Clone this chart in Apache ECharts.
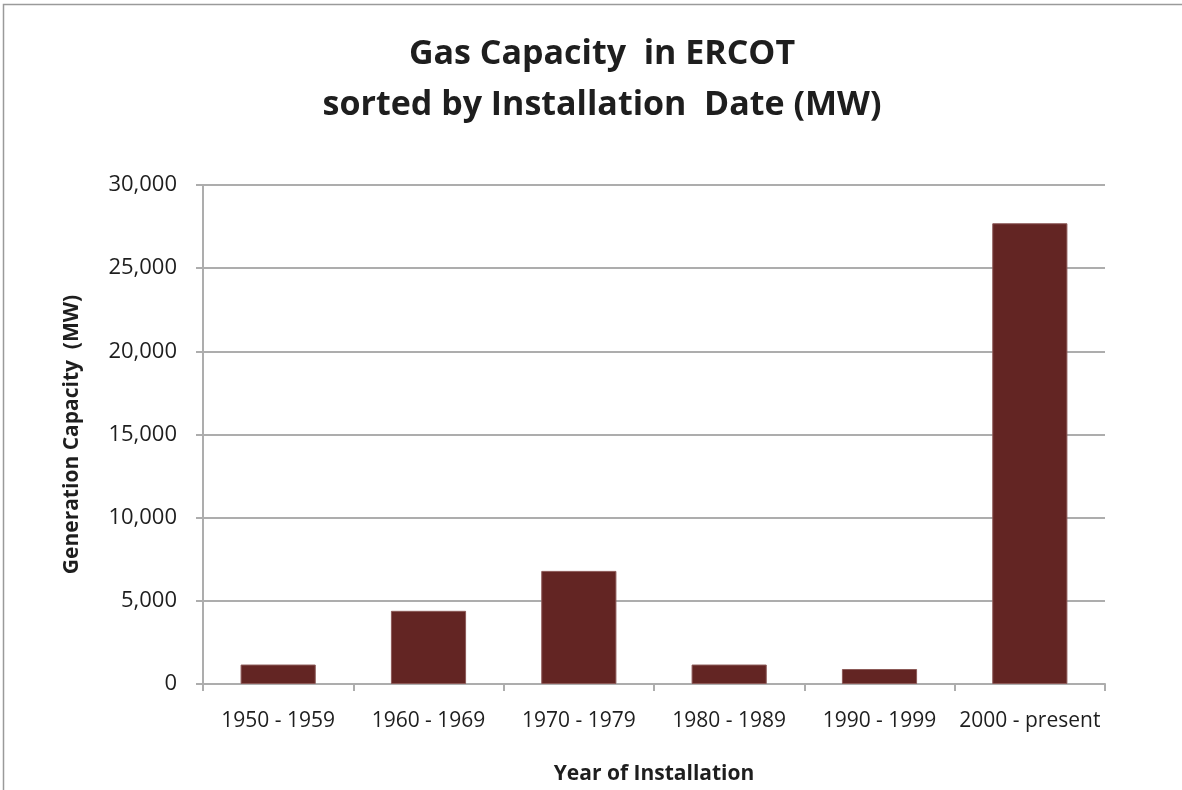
<!DOCTYPE html>
<html>
<head>
<meta charset="utf-8">
<title>Gas Capacity in ERCOT</title>
<script src="https://cdn.jsdelivr.net/npm/echarts@6/dist/echarts.min.js"></script>
<style>
    html, body { margin: 0; padding: 0; background: #fff; }
    #chart { width: 1182px; height: 790px; }
</style>
</head>
<body>
<div id="chart"></div>
<script>
// 카테고리 (설치 연대)
const categories = ['1950 - 1959', '1960 - 1969', '1970 - 1979', '1980 - 1989', '1990 - 1999', '2000 - present'];

// 발전 용량 (MW) - 그림에서 읽은 값
const capacityMW = [1170, 4400, 6800, 1170, 900, 27700];

// y축 눈금
const yTicks = [0, 5000, 10000, 15000, 20000, 25000, 30000];

const BAR_COLOR = '#632523';
const GRID_COLOR = '#adadad';
const FONT = '"Open Sans", "Noto Sans", sans-serif';

const chart = echarts.init(document.getElementById('chart'));

const option = {
    backgroundColor: '#fff',
    animation: false,
    title: {
        text: 'Gas Capacity  in ERCOT\nsorted by Installation  Date (MW)',
        left: 597,
        top: 24,
        textAlign: 'center',
        textStyle: {
            fontFamily: FONT,
            fontSize: 34,
            fontWeight: 'bold',
            color: '#1e1e1e',
            lineHeight: 51
        }
    },
    // 차트 외곽 테두리
    graphic: [{
        type: 'rect',
        shape: { x: 3.5, y: 4.5, width: 1200, height: 820 },
        style: { fill: 'none', stroke: '#9a9a9a', lineWidth: 1.5 },
        silent: true
    }],
    grid: {
        left: 203,
        right: 77,
        top: 185,
        bottom: 106
    },
    xAxis: {
        type: 'category',
        data: categories,
        name: 'Year of Installation',
        nameLocation: 'middle',
        nameGap: 80,
        nameTextStyle: {
            fontFamily: FONT,
            fontSize: 21,
            fontWeight: 'bold',
            color: '#1e1e1e'
        },
        axisLine: { lineStyle: { color: GRID_COLOR, width: 2 } },
        axisTick: { show: true, length: 7, lineStyle: { color: GRID_COLOR, width: 2 } },
        axisLabel: {
            interval: 0,
            margin: 27,
            fontFamily: FONT,
            fontSize: 21,
            color: '#1e1e1e'
        }
    },
    yAxis: {
        type: 'value',
        min: yTicks[0],
        max: yTicks[yTicks.length - 1],
        interval: 5000,
        name: 'Generation Capacity  (MW)',
        nameLocation: 'middle',
        nameGap: 120,
        nameTextStyle: {
            fontFamily: FONT,
            fontSize: 21,
            fontWeight: 'bold',
            color: '#1e1e1e'
        },
        axisLine: { show: true, lineStyle: { color: GRID_COLOR, width: 2 } },
        axisTick: { show: true, length: 7, lineStyle: { color: GRID_COLOR, width: 2 } },
        splitLine: { lineStyle: { color: GRID_COLOR, width: 2 } },
        axisLabel: {
            margin: 26,
            fontFamily: FONT,
            fontSize: 22,
            color: '#1e1e1e',
            formatter: v => v.toLocaleString('en-US')
        }
    },
    series: [{
        type: 'bar',
        data: capacityMW,
        barWidth: '50%',
        itemStyle: {
            color: BAR_COLOR,
            borderColor: '#8c5a58',
            borderWidth: 1
        }
    }]
};

chart.setOption(option);
</script>
</body>
</html>
